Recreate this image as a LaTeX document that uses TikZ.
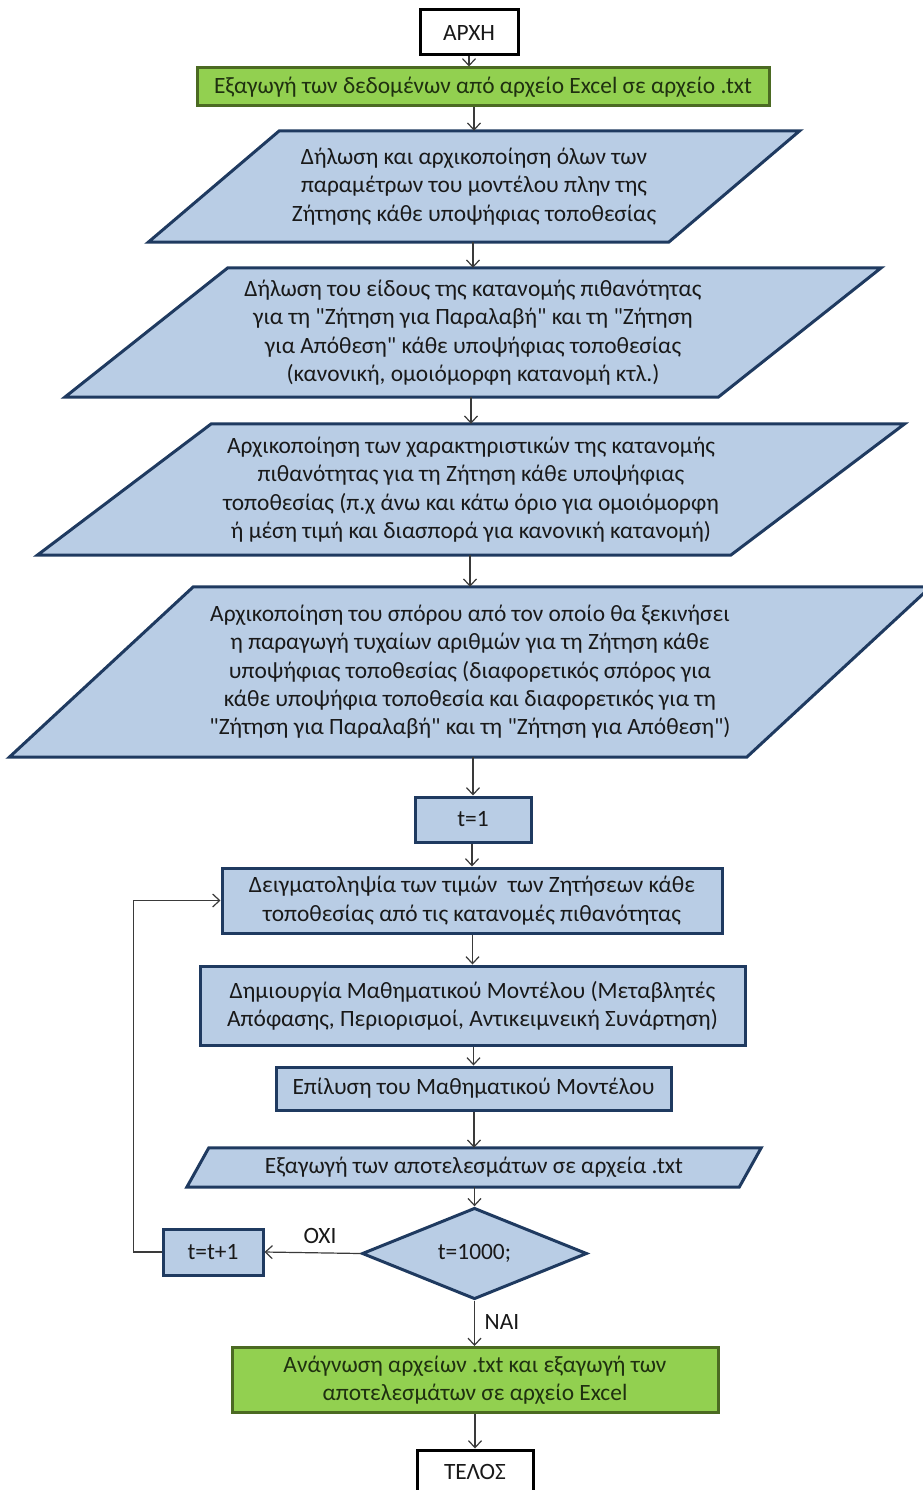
\documentclass[tikz,border=0pt]{standalone}
\usepackage{fontspec}
\setmainfont{Carlito}
\usepackage{xcolor}
\usetikzlibrary{arrows.meta,shapes.geometric,backgrounds,calc}

\definecolor{boxblue}{HTML}{B9CDE5}
\definecolor{edgeblue}{HTML}{1F3A60}
\definecolor{boxgreen}{HTML}{92D050}
\definecolor{edgegreen}{HTML}{4B6A22}
\definecolor{txtgreen}{HTML}{1F3010}
\definecolor{linegray}{HTML}{3A3A3A}

\newcommand{\qq}{\textquotedbl}

\begin{document}
\begin{tikzpicture}[x=1pt,y=-1pt,>={Straight Barb[length=7pt,width=13pt]},
  every node/.style={font=\fontsize{23.4}{28.3}\selectfont,align=center,inner sep=0pt,text=black!90},
  term/.style={draw=black,line width=3pt,fill=white,minimum width=98,minimum height=45},
  proc/.style={draw=edgeblue,line width=3pt,fill=boxblue},
  xport/.style={draw=edgegreen,line width=3pt,fill=boxgreen,text=txtgreen},
  iobox/.style={draw=edgeblue,line width=3pt,fill=boxblue},
  dec/.style={diamond,draw=edgeblue,line width=3pt,fill=boxblue,minimum width=225,minimum height=83},
  link/.style={->,draw=linegray,line width=1.2pt}]

  \useasboundingbox (0,0) rectangle (922,1490);

  % Node: start
  \node[term] (start) at (469,32.5) {ΑΡΧΗ};
  % Node: exp
  \node[xport,minimum width=572,minimum height=38] (exp) at (483,87)
    {Εξαγωγή των δεδομένων από αρχείο Excel σε αρχείο .txt};
  % Node: decl
  \node[minimum width=520,minimum height=111] (decl) at (474,186.5)
    {Δήλωση και αρχικοποίηση όλων των\\παραμέτρων του μοντέλου πλην της\\Ζήτησης κάθε υποψήφιας τοποθεσίας};
  % Node: kind
  \node[minimum width=653,minimum height=129] (kind) at (473,332.5)
    {Δήλωση του είδους της κατανομής πιθανότητας\\για τη \qq Ζήτηση για Παραλαβή\qq{} και τη \qq Ζήτηση\\για Απόθεση\qq{} κάθε υποψήφιας τοποθεσίας\\(κανονική, ομοιόμορφη κατανομή κτλ.)};
  % Node: param
  \node[minimum width=693,minimum height=131] (param) at (471,489.5)
    {Αρχικοποίηση των χαρακτηριστικών της κατανομής\\πιθανότητας για τη Ζήτηση κάθε υποψήφιας\\τοποθεσίας (π.χ άνω και κάτω όριο για ομοιόμορφη\\ή μέση τιμή και διασπορά για κανονική κατανομή)};
  % Node: seed
  \node[minimum width=737,minimum height=170] (seed) at (470,672)
    {Αρχικοποίηση του σπόρου από τον οποίο θα ξεκινήσει\\η παραγωγή τυχαίων αριθμών για τη Ζήτηση κάθε\\υποψήφιας τοποθεσίας (διαφορετικός σπόρος για\\κάθε υποψήφια τοποθεσία και διαφορετικός για τη\\\qq Ζήτηση για Παραλαβή\qq{} και τη \qq Ζήτηση για Απόθεση\qq)};
  % Node: tinit
  \node[proc,minimum width=116,minimum height=45] (tinit) at (473,819.5) {t=1};
  % Node: sample
  \node[proc,minimum width=500,minimum height=65] (sample) at (472,900.5)
    {Δειγματοληψία των τιμών~ των Ζητήσεων κάθε\\τοποθεσίας από τις κατανομές πιθανότητας};
  % Node: model
  \node[proc,minimum width=545,minimum height=79] (model) at (472.5,1005.5)
    {Δημιουργία Μαθηματικού Μοντέλου (Μεταβλητές\\Απόφασης, Περιορισμοί, Αντικειμνεική Συνάρτηση)};
  % Node: solve
  \node[proc,minimum width=395,minimum height=43] (solve) at (473.5,1088.5)
    {Επίλυση του Μαθηματικού Μοντέλου};
  % Node: save
  \node[minimum width=552,minimum height=39] (save) at (474,1167.5)
    {Εξαγωγή των αποτελεσμάτων σε αρχεία .txt};
  % Node: check
  \node[dec] (check) at (474.5,1253.5) {t=1000;};
  % Node: tinc
  \node[proc,minimum width=100,minimum height=46] (tinc) at (213,1252) {t=t+1};
  % Node: read
  \node[xport,minimum width=486,minimum height=65] (read) at (475,1380)
    {Ανάγνωση αρχείων .txt και εξαγωγή των\\αποτελεσμάτων σε αρχείο Excel};
  % Node: stop
  \node[term,minimum width=116,minimum height=44] (stop) at (475,1472) {ΤΕΛΟΣ};
  % Node: no / yes
  \node (no) at (320,1236) {ΟΧΙ};
  \node (yes) at (502,1322) {ΝΑΙ};

  % parallelograms behind the text
  \begin{scope}[on background layer]
    \foreach \n/\s in {decl/65.5,kind/81.5,param/87,seed/92,save/11}
      \filldraw[iobox] ($(\n.north west)+(\s,0)$) -- ($(\n.north east)+(\s,0)$)
        -- ($(\n.south east)+(-\s,0)$) -- ($(\n.south west)+(-\s,0)$) -- cycle;
  \end{scope}

  % Edge: start -> exp
  \draw[link] (start.south) -- (start.south |- exp.north);
  % Edge: exp -> decl
  \draw[link] (exp.south -| decl) -- (decl.north);
  % Edge: decl -> kind
  \draw[link] (decl.south -| kind) -- (kind.north);
  % Edge: kind -> param
  \draw[link] (kind.south -| param) -- (param.north);
  % Edge: param -> seed
  \draw[link] (param.south -| seed) -- (seed.north);
  % Edge: seed -> tinit
  \draw[link] (seed.south -| tinit) -- (tinit.north);
  % Edge: tinit -> sample
  \draw[link] (tinit.south -| sample) -- (sample.north);
  % Edge: sample -> model
  \draw[link] (sample.south -| model) -- (model.north);
  % Edge: model -> solve
  \draw[link] (model.south -| solve) -- (solve.north);
  % Edge: solve -> save
  \draw[link] (solve.south -| save) -- (save.north);
  % Edge: save -> check
  \draw[link] (save.south -| check) -- (check.north);
  % Edge: check -> tinc
  \draw[link] (check.west) -- (tinc.east);
  % Edge: tinc -> sample
  \draw[link] (tinc.west) -- ++(-28,0) |- (sample.west);
  % Edge: check -> read
  \draw[link] (check.south) -- (check.south |- read.north);
  % Edge: read -> stop
  \draw[link] (read.south -| stop) -- (stop.north);
\end{tikzpicture}
\end{document}
